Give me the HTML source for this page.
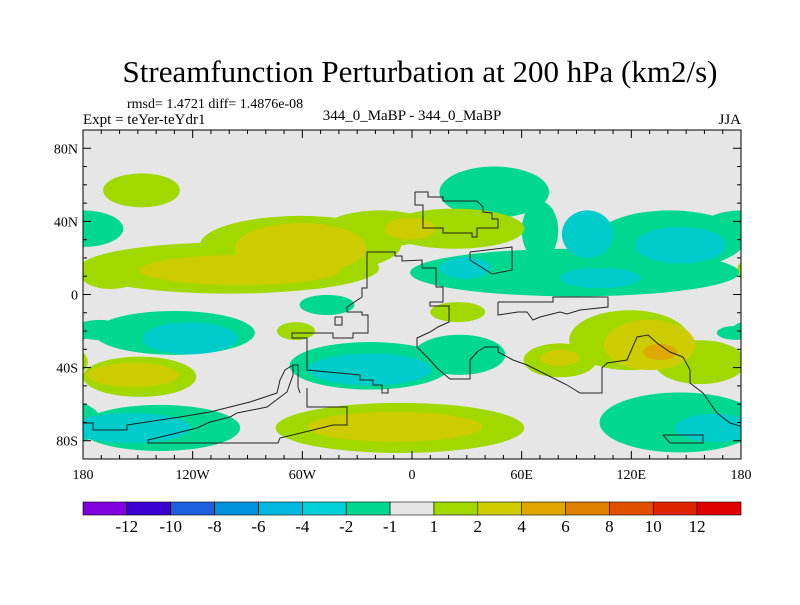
<!DOCTYPE html>
<html><head><meta charset="utf-8"><style>
body{margin:0;background:#fff;}
svg text{font-family:"Liberation Serif",serif;fill:#000;}
</style></head><body>
<svg id="chart" width="800" height="600" viewBox="0 0 800 600" xmlns="http://www.w3.org/2000/svg">
<text x="420" y="82" font-size="31" text-anchor="middle">Streamfunction Perturbation at 200 hPa (km2/s)</text>
<text x="127" y="108" font-size="14">rmsd= 1.4721 diff= 1.4876e-08</text>
<text x="83" y="124" font-size="15">Expt = teYer-teYdr1</text>
<text x="412" y="120" font-size="15" text-anchor="middle">344_0_MaBP - 344_0_MaBP</text>
<text x="741" y="124" font-size="15" text-anchor="end">JJA</text>
<defs><clipPath id="pc"><rect x="83" y="130" width="658" height="329"/></clipPath></defs>
<rect x="83" y="130" width="658" height="329" fill="#e6e6e6"/>
<g id="fills" clip-path="url(#pc)"></g>
<g id="coast" clip-path="url(#pc)" fill="none" stroke="#222" stroke-width="1"></g>
<rect x="83" y="130" width="658" height="329" fill="none" stroke="#000" stroke-width="1"/>
<g id="ticks" stroke="#000" stroke-width="1"></g>
<g id="labels"></g>
<g id="colorbar"></g>
</svg>
<script>
// colour level data
const levelColors = ["#00cccc","#00d890","#a0d800","#cccc00","#dda800"];
// blobs: centre lon/lat, half-widths (deg), level index
const blobLon = [-148,-100,-61,-17.5,23.5,-165,-94,-61,-1,-180,
 45,70,89,141,96,103,147,29,
 -130,-171,-121.5,-149,-152.6,-138,-154,146.6,166,-63.5,-23,26,-23,-6.6,-9.3,25,81,119,157.6,81,130,135.7,176.7,-46.5];
const blobLat = [57,14.5,27,36,36,10.7,13.4,25.4,36,36,
 56,35,12,30,33,9,27,14.5,
 -21,-19.4,-24,-45,-44,-73,-73,-70,-73,-20,-39,-33,-41,-73,-72.4,-9.6,-36,-25,-37,-34.7,-27.6,-31.4,-21,-5.7];
const blobRx = [21,82,55,30,38,16,55,36,14,22,
 30,10,90,41,14,22,25,14,
 44,14,26,31,25,44,33,44,22,10.4,44,25,34,68,48,15,20,33,25,11,25,9.3,10,15];
const blobRy = [9.3,14,16,10,11,7.7,8.2,13.7,6,10,
 14,16,13,16,13,5.5,10,6,
 12,5.5,8.7,11,6.6,12.6,8.2,16.4,7.7,4.9,13,11,8.7,13.7,8.2,5.5,9.3,16.4,12,4.4,13.7,4.4,3.8,5.5];
const blobLevel = [2,2,2,2,2,2,3,3,3,1,
 1,1,1,1,0,0,0,0,
 1,1,0,2,3,1,0,1,0,2,1,1,0,2,3,2,2,2,2,3,3,4,1,1];
const cbLabels = ["-12","-10","-8","-6","-4","-2","-1","1","2","4","6","8","10","12"];
const cbColors = ["#8000e0","#3c00d0","#1e5fe0","#0090dc","#00b8e0","#00d0d8","#00d890","#e6e6e6","#a0d800","#d0cc00","#e0a800","#e08000","#e05000","#e02400","#e00000"];
const latTicks = [80,40,0,-40,-80];
const latTickLabels = ["80N","40N","0","40S","80S"];
const lonTicks = [-180,-120,-60,0,60,120,180];
const lonTickLabels = ["180","120W","60W","0","60E","120E","180"];

const NS="http://www.w3.org/2000/svg";
const X0=83,X1=741,Y0=130,Y1=459;
const xs = lon => X0+(lon+180)*(X1-X0)/360;
const ys = lat => (Y0+Y1)/2 - lat*(Y1-Y0)/180;
const kx=(X1-X0)/360, ky=(Y1-Y0)/180;
function mk(tag,attrs,parent){const e=document.createElementNS(NS,tag);for(const k in attrs)e.setAttribute(k,attrs[k]);parent.appendChild(e);return e;}

const fills=document.getElementById('fills');
const order=[1,2,0,3,4];
order.forEach(L=>{
  blobLon.forEach((lon,i)=>{
    if(blobLevel[i]!==L) return;
    [-360,0,360].forEach(sh=>{
      const cx=xs(lon+sh); if(cx+blobRx[i]*kx<X0||cx-blobRx[i]*kx>X1) return;
      const e=mk('ellipse',{cx:cx,cy:ys(blobLat[i]),rx:blobRx[i]*kx,ry:blobRy[i]*ky,fill:levelColors[L]},fills);
      
      
    });
  });
});

const coasts=[
"367,252 367,288 362,288 362,297 353,303 347,307 347,312 362,312 362,315 368,315 368,333 353,333 353,338 333,338 333,333 292,333 292,338 307,338 307,370 360,375 360,380 373,380 373,385 382,385 382,393 388,393 388,388",
"307,388 307,407 347,407 347,425 333,425 313,430 280,438 278,443 148,443 148,440 177,433 197,428 210,422 230,417 237,413 267,407 287,392 293,375 293,365 298,365 298,387 300,393",
"83,423 93,423 93,430 127,430 127,425 180,417 210,412 230,407 250,402 277,393 280,380 285,370 293,365",
"415,192 428,192 428,197 443,197 443,201 477,201 483,207 483,212 492,213 492,219 498,219 498,228 477,228 477,237 472,237 472,233 443,233 443,228 423,228 423,205 415,205 415,192",
"367,252 395,252 395,256 402,256 402,261 422,260 422,268 436,268 436,287 443,287 443,302 430,302 430,306 449,306 449,322 438,327 430,332 417,338 417,347 423,353 430,360 437,368 450,379 470,379 470,360 477,352 485,347 498,347 498,352 513,360 527,365 547,375 567,385 580,393 602,393 602,368 607,363 627,360 637,337 648,335 657,343 670,352 683,357 690,370 690,383 703,393 710,403 717,413 730,423 743,427",
"498,302 553,302 553,297 608,297 608,307 580,310 567,314 560,312 540,317 533,320 527,312 518,312 498,315 498,302",
"470,252 512,247 512,270 492,274 470,260 470,252",
"663,435 703,435 703,443 670,443 663,435",
"335,317 342,317 342,325 335,325 335,317"];
const cg=document.getElementById('coast');
coasts.forEach(p=>{const e=mk('polyline',{points:p},cg);

});

const tg=document.getElementById('ticks');
for(let lat=-90;lat<=90;lat+=10){const y=ys(lat);const L=(lat%40===0&&Math.abs(lat)<=80)?8:4;
 mk('line',{x1:X0,y1:y,x2:X0+L,y2:y},tg);mk('line',{x1:X1,y1:y,x2:X1-L,y2:y},tg);}
for(let lon=-180;lon<=180;lon+=10){const x=xs(lon);const L=(lon%60===0)?8:4;
 mk('line',{x1:x,y1:Y0,x2:x,y2:Y0+L},tg);mk('line',{x1:x,y1:Y1,x2:x,y2:Y1-L},tg);}
const lg=document.getElementById('labels');
latTicks.forEach((lat,i)=>{const t=mk('text',{x:X0-5,y:ys(lat)+5,'font-size':14,'text-anchor':'end'},lg);t.textContent=latTickLabels[i];

});
lonTicks.forEach((lon,i)=>{const t=mk('text',{x:xs(lon),y:479,'font-size':14,'text-anchor':'middle'},lg);t.textContent=lonTickLabels[i];

});

const cb=document.getElementById('colorbar');
const bw=(X1-X0)/cbColors.length;
cbColors.forEach((c,i)=>{const r=mk('rect',{x:X0+i*bw,y:502,width:bw,height:13,fill:c,stroke:'#000','stroke-width':0.6},cb);

});
cbLabels.forEach((s,i)=>{const t=mk('text',{x:X0+(i+1)*bw,y:532,'font-size':17,'text-anchor':'middle'},cb);t.textContent=s;

});
</script>
</body></html>
